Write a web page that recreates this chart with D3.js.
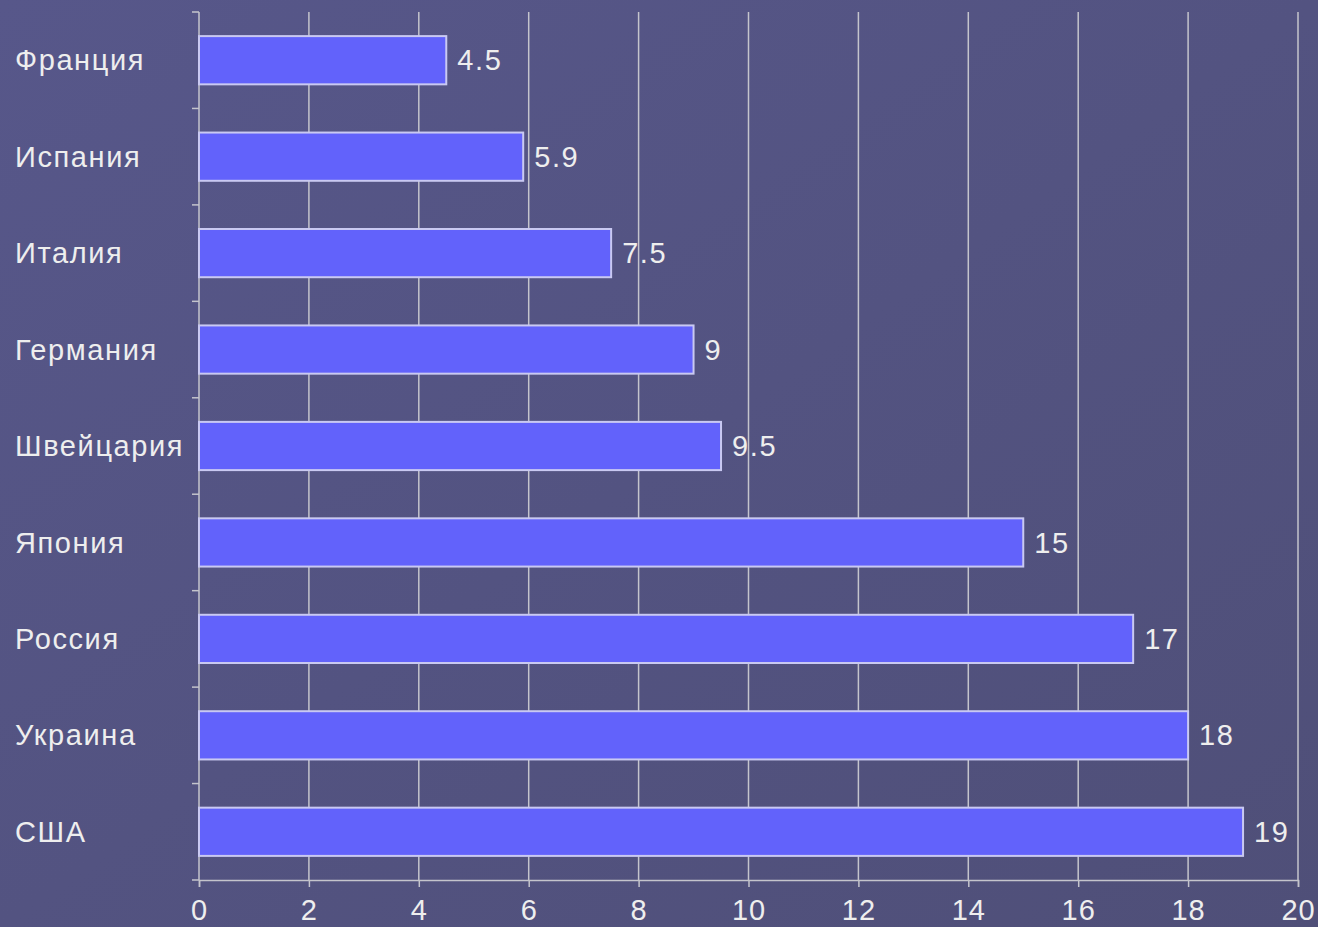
<!DOCTYPE html>
<html>
<head>
<meta charset="utf-8">
<script src="https://cdn.jsdelivr.net/npm/d3@7"></script>
<style>
  html, body { margin: 0; padding: 0; background: #55557f; }
  svg { display: block; }
</style>
</head>
<body>
<div id="chart"></div>
<script>
// данные
const countries = ['Франция', 'Испания', 'Италия', 'Германия', 'Швейцария', 'Япония', 'Россия', 'Украина', 'США'];
const values = [4.5, 5.9, 7.5, 9, 9.5, 15, 17, 18, 19];
const xTicks = [0, 2, 4, 6, 8, 10, 12, 14, 16, 18, 20];

const W = 1318, H = 927;
const margin = {top: 12, right: 20, bottom: 47, left: 199};
const font = 'Liberation Sans, Arial, sans-serif';

const svg = d3.select('#chart').append('svg')
    .attr('width', W)
    .attr('height', H);

// фон
const defs = svg.append('defs');
const bg = defs.append('linearGradient').attr('id', 'bg')
    .attr('x1', 0).attr('y1', 0).attr('x2', 1).attr('y2', 1);
bg.append('stop').attr('offset', '0%').attr('stop-color', '#57578a');
bg.append('stop').attr('offset', '100%').attr('stop-color', '#4f4f78');
svg.append('rect').attr('width', W).attr('height', H).attr('fill', 'url(#bg)');

const x = d3.scaleLinear()
    .domain([0, 20])
    .range([margin.left, W - margin.right]);

const y = d3.scaleBand()
    .domain(countries)
    .range([margin.top, H - margin.bottom])
    .paddingInner(0.5)
    .paddingOuter(0.25);

// вертикальная сетка
svg.append('g')
   .selectAll('line')
   .data(xTicks.slice(1))
   .join('line')
   .attr('x1', d => x(d)).attr('x2', d => x(d))
   .attr('y1', margin.top).attr('y2', H - margin.bottom)
   .attr('stroke', '#c4c4cc')
   .attr('stroke-width', 1.5);

// ось X
const xAxis = svg.append('g')
    .attr('transform', `translate(0,${H - margin.bottom})`)
    .call(d3.axisBottom(x).tickValues(xTicks).tickSize(7).tickPadding(12));
xAxis.select('.domain').attr('stroke', '#c4c4cc').attr('stroke-width', 1.5);
xAxis.selectAll('.tick line').attr('stroke', '#c4c4cc').attr('stroke-width', 1.5);
xAxis.selectAll('.tick text')
     .attr('fill', '#eeeeee')
     .style('font-family', font)
     .style('font-size', '29px')
     .style('letter-spacing', '1px');

// ось Y (линия и засечки на границах полос)
const step = y.step();
const bounds = d3.range(countries.length + 1).map(i => margin.top + i * step);
svg.append('line')
   .attr('x1', x(0)).attr('x2', x(0))
   .attr('y1', margin.top).attr('y2', H - margin.bottom)
   .attr('stroke', '#c4c4cc').attr('stroke-width', 1.5);
svg.append('g')
   .selectAll('line')
   .data(bounds)
   .join('line')
   .attr('x1', x(0) - 7).attr('x2', x(0))
   .attr('y1', d => d).attr('y2', d => d)
   .attr('stroke', '#c4c4cc').attr('stroke-width', 1.5);

// подписи стран
svg.append('g')
   .selectAll('text')
   .data(countries)
   .join('text')
   .attr('x', 15)
   .attr('y', d => y(d) + y.bandwidth() / 2)
   .attr('dy', '0.35em')
   .attr('fill', '#eeeeee')
   .style('font-family', font)
   .style('font-size', '29px')
   .style('letter-spacing', '1.6px')
   .text(d => d);

// столбцы
svg.append('g')
   .selectAll('rect')
   .data(values)
   .join('rect')
   .attr('x', x(0))
   .attr('y', (d, i) => y(countries[i]))
   .attr('width', d => x(d) - x(0))
   .attr('height', y.bandwidth())
   .attr('fill', '#6262fb')
   .attr('stroke', '#c9c9f2')
   .attr('stroke-width', 2);

// значения
svg.append('g')
   .selectAll('text')
   .data(values)
   .join('text')
   .attr('x', d => x(d) + 11)
   .attr('y', (d, i) => y(countries[i]) + y.bandwidth() / 2)
   .attr('dy', '0.35em')
   .attr('fill', '#eeeeee')
   .style('font-family', font)
   .style('font-size', '29px')
   .style('letter-spacing', '1.6px')
   .text(d => d);
</script>
</body>
</html>
